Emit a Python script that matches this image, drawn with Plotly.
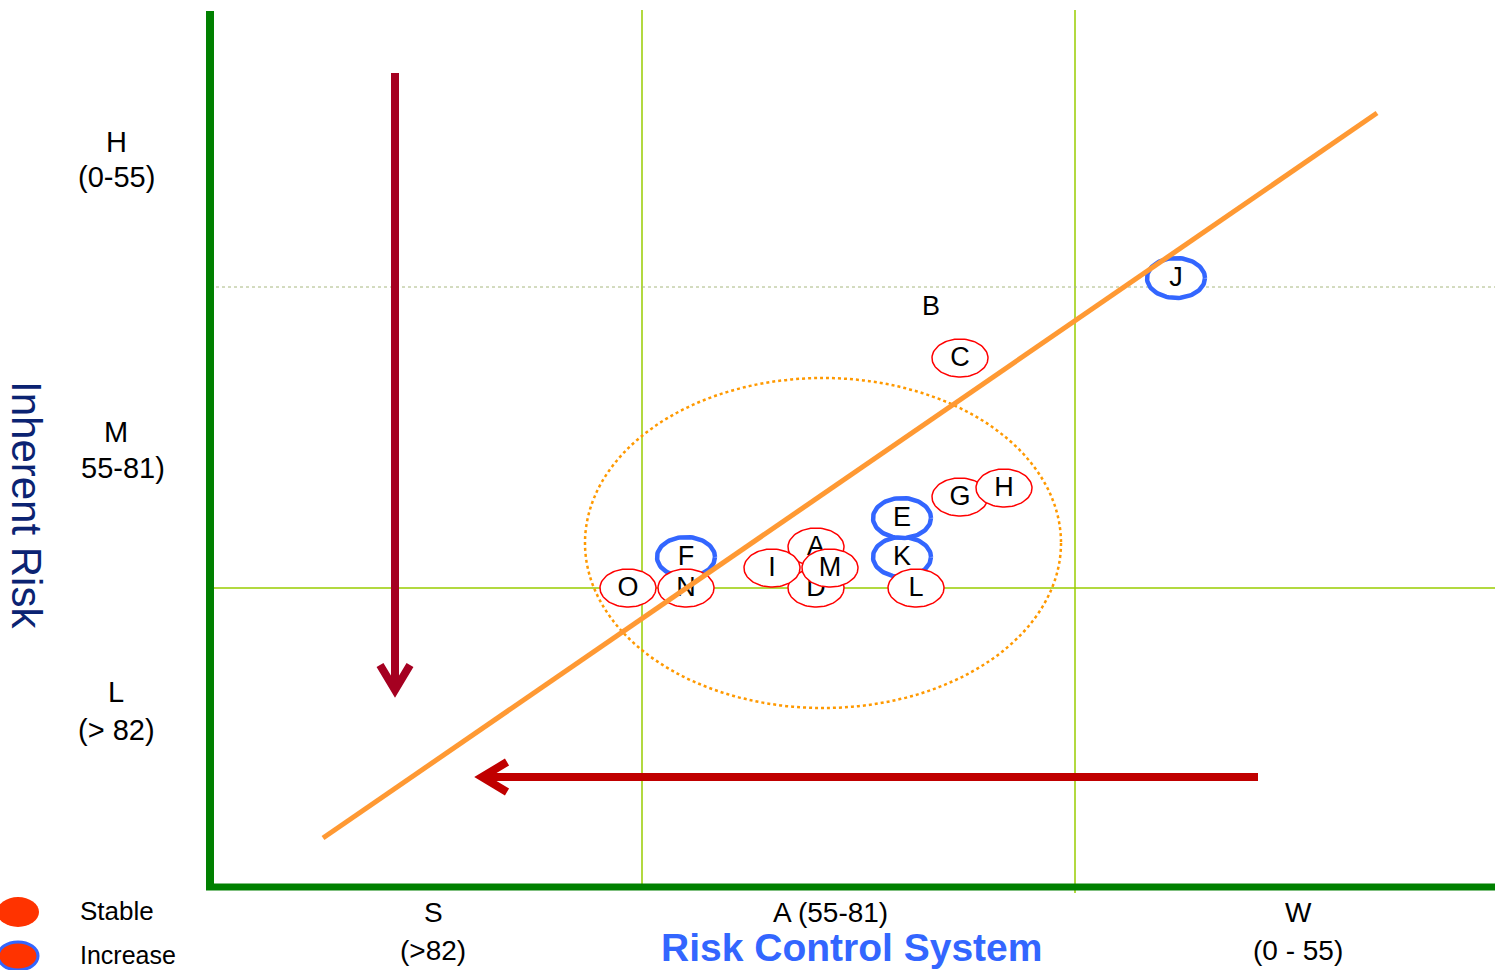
import numpy as np
import plotly.graph_objects as go

# ---- data (chart units: x = risk-control position, y = inherent-risk position) ----
item_labels = ["C", "J", "G", "H", "F", "O", "N", "A", "D", "I", "M", "K", "E", "L"]
item_x      = [960, 1176, 960, 1004, 686, 628, 686, 816, 816, 772, 830, 902, 902, 916]
item_y      = [358, 278, 497, 488, 557, 588, 588, 547, 588, 568, 568, 557, 518, 588]
item_status = ["Stable", "Increase", "Stable", "Stable", "Increase", "Stable", "Stable",
               "Stable", "Stable", "Stable", "Stable", "Increase", "Increase", "Stable"]
plain_label = ["B"]
plain_x = [931]
plain_y = [308]

trend_x = [323, 1377]
trend_y = [838, 113]

x_tick_top = ["S", "A (55-81)", "W"]
x_tick_bottom = ["(>82)", "", "(0 - 55)"]
x_tick_pos = [433, 830, 1298]
y_tick_top = ["H", "M", "L"]
y_tick_bottom = ["(0-55)", "55-81)", "(> 82)"]
y_tick_pos = [142, 432, 692]
y_tick_bottom_pos = [177, 468, 730]
y_tick_bottom_x = [116, 123, 116]

FONT = "Liberation Sans, Arial, sans-serif"

fig = go.Figure()

def ellipse(cx, cy, rx, ry, n=90):
    t = np.linspace(0, 2 * np.pi, n)
    return cx + rx * np.cos(t), cy + ry * np.sin(t)

shapes = []
# grid lines (light green)
shapes.append(dict(type="line", x0=642, x1=642, y0=10, y1=890, line=dict(color="#99CC00", width=1.5), layer="below"))
shapes.append(dict(type="line", x0=1075, x1=1075, y0=10, y1=893, line=dict(color="#99CC00", width=1.5), layer="below"))
shapes.append(dict(type="line", x0=210, x1=1495, y0=588, y1=588, line=dict(color="#99CC00", width=1.5), layer="below"))
shapes.append(dict(type="line", x0=210, x1=1495, y0=287, y1=287, line=dict(color="#A8B880", width=1, dash="dot"), layer="below"))
# dotted orange ellipse
shapes.append(dict(type="circle", x0=585, x1=1061, y0=378, y1=708,
                   line=dict(color="#FF9900", width=2.5, dash="dot"), layer="below"))
# main axes (green)
shapes.append(dict(type="line", x0=210, x1=210, y0=11, y1=890, line=dict(color="#008000", width=8)))
shapes.append(dict(type="line", x0=206, x1=1495, y0=887, y1=887, line=dict(color="#008000", width=7)))
# legend markers
shapes.append(dict(type="circle", x0=-3, x1=39, y0=897, y1=927, fillcolor="#FF3300", line=dict(width=0)))
shapes.append(dict(type="circle", x0=-2, x1=38, y0=942, y1=970, fillcolor="#FF3300",
                   line=dict(color="#3366FF", width=3)))

# arrows
fig.add_trace(go.Scatter(x=[395, 395], y=[73, 690], mode="lines",
                         line=dict(color="#A50021", width=8), hoverinfo="skip", showlegend=False))
fig.add_trace(go.Scatter(x=[380, 395, 410], y=[665, 690, 665], mode="lines",
                         line=dict(color="#A50021", width=8), hoverinfo="skip", showlegend=False))
fig.add_trace(go.Scatter(x=[1258, 482], y=[777, 777], mode="lines",
                         line=dict(color="#C00000", width=8), hoverinfo="skip", showlegend=False))
fig.add_trace(go.Scatter(x=[507, 482, 507], y=[762, 777, 792], mode="lines",
                         line=dict(color="#C00000", width=8), hoverinfo="skip", showlegend=False))

# items
for lab, x, y, st in zip(item_labels, item_x, item_y, item_status):
    if st == "Increase":
        ex, ey = ellipse(x, y, 29, 20)
        ln = dict(color="#3366FF", width=4.5)
    else:
        ex, ey = ellipse(x, y, 28, 19)
        ln = dict(color="#FF0000", width=1.5)
    fig.add_trace(go.Scatter(x=ex, y=ey, mode="lines", fill="toself", fillcolor="white",
                             line=ln, hoverinfo="skip", showlegend=False))
    fig.add_trace(go.Scatter(x=[x], y=[y + 1], mode="text", text=[lab],
                             textfont=dict(family=FONT, size=27, color="black"),
                             textposition="middle center", hoverinfo="skip", showlegend=False))

fig.add_trace(go.Scatter(x=plain_x, y=plain_y, mode="text", text=plain_label,
                         textfont=dict(family=FONT, size=27, color="black"),
                         textposition="middle center", hoverinfo="skip", showlegend=False))

# trend line
fig.add_trace(go.Scatter(x=trend_x, y=trend_y, mode="lines",
                         line=dict(color="#FF9933", width=5), hoverinfo="skip", showlegend=False))

ann = []
for t, b, xp in zip(x_tick_top, x_tick_bottom, x_tick_pos):
    ann.append(dict(x=xp, y=912, text=t, showarrow=False, font=dict(family=FONT, size=28, color="black")))
    if b:
        ann.append(dict(x=xp, y=950, text=b, showarrow=False, font=dict(family=FONT, size=28, color="black")))
for t, b, yp, yb, xb in zip(y_tick_top, y_tick_bottom, y_tick_pos, y_tick_bottom_pos, y_tick_bottom_x):
    ann.append(dict(x=116, y=yp, text=t, showarrow=False, font=dict(family=FONT, size=29, color="black")))
    ann.append(dict(x=xb, y=yb, text=b, showarrow=False, font=dict(family=FONT, size=29, color="black")))

ann.append(dict(x=851, y=947, text="<b>Risk Control System</b>", showarrow=False,
                font=dict(family=FONT, size=39, color="#3366FF")))
ann.append(dict(x=27, y=505, text="Inherent Risk", textangle=90, showarrow=False,
                font=dict(family=FONT, size=42, color="#0B2372")))
ann.append(dict(x=78, y=911, text="Stable", showarrow=False, xanchor="left",
                font=dict(family=FONT, size=26, color="black")))
ann.append(dict(x=78, y=955, text="Increase", showarrow=False, xanchor="left",
                font=dict(family=FONT, size=25, color="black")))

fig.update_layout(
    width=1495, height=970,
    margin=dict(l=0, r=0, t=0, b=0),
    paper_bgcolor="white", plot_bgcolor="white",
    xaxis=dict(range=[0, 1495], visible=False, fixedrange=True),
    yaxis=dict(range=[970, 0], visible=False, fixedrange=True),
    shapes=shapes, annotations=ann, showlegend=False,
)
fig.write_html("out.html", config={"displayModeBar": False})
